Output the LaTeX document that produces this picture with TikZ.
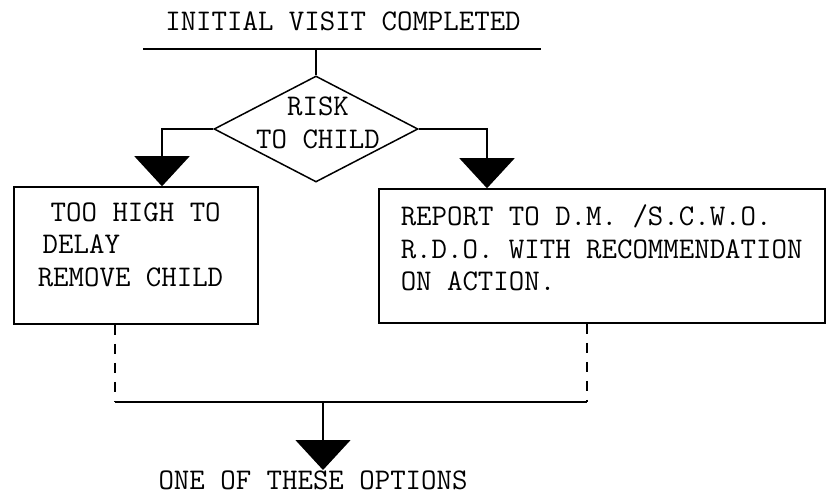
\documentclass[tikz,border=0pt]{standalone}
\usetikzlibrary{shapes.geometric,arrows.meta}
\begin{document}
\begin{tikzpicture}[x=1pt,y=-1pt,line width=1.5pt,
  txt/.style={font=\fontsize{30}{32.5}\selectfont\ttfamily,inner sep=0pt},
  box/.style={draw,inner sep=0pt},
  tri/.style={-{Triangle[length=30pt,width=55pt]}},
  dashline/.style={dash pattern=on 10pt off 9pt}]
\useasboundingbox (0,0) rectangle (827,497);
% title
\node[txt] (title) at (343,21) {INITIAL VISIT COMPLETED};
\coordinate (barL) at (143,49);
\coordinate (barR) at (541,49);
\coordinate (barM) at (316,49);
\draw (barL) -- (barR);
% decision
\node[diamond,draw,minimum width=204pt,minimum height=106pt,inner sep=0pt] (risk) at (316,129) {};
\node[txt,align=center] (risktxt) at (318,123) {RISK\\TO CHILD};
\draw (barM) -- (risk.north);
% boxes
\node[box,minimum width=244pt,minimum height=137pt] (left) at (136,255.5) {};
\node[box,minimum width=446pt,minimum height=134pt] (right) at (602,256) {};
\node[txt,align=left,anchor=north west] (lefttxt) at (37,202)
  {\hspace*{13pt}TOO HIGH TO\\\hspace*{5pt}DELAY\\REMOVE CHILD};
\node[txt,align=left,anchor=north west] (righttxt) at (400,204)
  {REPORT TO D.M. /S.C.W.O.\\R.D.O. WITH RECOMMENDATION\\ON ACTION.};
% branches
\draw[tri] (risk.west) -| ([xshift=26pt]left.north);
\draw[tri] (risk.east) -| ([xshift=-115pt]right.north);
% join
\coordinate (jl) at (115,402);
\coordinate (jr) at (587,402);
\coordinate (jm) at (323,402);
\draw[dashline] ([xshift=-21pt]left.south) -- (jl);
\draw[dashline] ([xshift=-15pt]right.south) -- (jr);
\draw (jl) -- (jr);
\node[txt,anchor=north] (opt) at (313,470) {ONE OF THESE OPTIONS};
\draw[tri] (jm) -- (opt.north -| jm);
\end{tikzpicture}
\end{document}
